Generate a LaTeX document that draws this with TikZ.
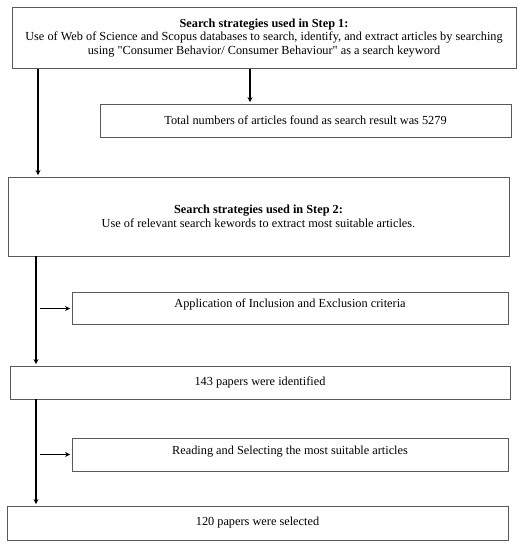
\documentclass[tikz,border=0pt]{standalone}
\usepackage{fontspec}
\setmainfont{Liberation Serif}
\usetikzlibrary{arrows.meta}
\tikzset{
	stepbox/.style = {draw = black!65, line width = .9pt, inner sep = 0pt, align = center,
		font = \fontsize{12.3}{13.5}\selectfont},
	lifted/.style = {execute at end node = {\rule[-#1]{0pt}{#1}}},
	flow/.style = {line width = 1.4pt, -{Stealth[length = 5pt, width = 5pt]}, shorten > = 1.5pt}
}
\begin{document}
\begin{tikzpicture}[x = 1pt, y = -1pt]
	\useasboundingbox (0, 0) rectangle (528, 550);
	% boxes
	\node[stepbox, minimum width = 504, minimum height = 61] (s1) at (264, 38)
		{\textbf{Search strategies used in Step 1:}\\
		Use of Web of Science and Scopus databases to search, identify, and extract articles by searching\\
		using \textquotedbl Consumer Behavior/ Consumer Behaviour\textquotedbl{} as a search keyword};
	\node[stepbox, minimum width = 411, minimum height = 33] (total) at (305.5, 120.5)
		{Total numbers of articles found as search result was 5279};
	\node[stepbox, minimum width = 501, minimum height = 79] (s2) at (258.5, 216.5)
		{\textbf{Search strategies used in Step 2:}\\
		Use of relevant search kewords to extract most suitable articles.};
	\node[stepbox, lifted = 11.5pt, minimum width = 436, minimum height = 32] (crit) at (290, 308.5)
		{Application of Inclusion and Exclusion criteria};
	\node[stepbox, minimum width = 500, minimum height = 33] (found) at (260, 382.5)
		{143 papers were identified};
	\node[stepbox, lifted = 9.5pt, minimum width = 436, minimum height = 33] (read) at (290, 454.5)
		{Reading and Selecting the most suitable articles};
	\node[stepbox, minimum width = 501, minimum height = 34] (chosen) at (257.5, 523)
		{120 papers were selected};
	% connectors
	\coordinate (c1) at (250, 0);
	\coordinate (l1) at (38, 0);
	\coordinate (l2) at (36, 0);
	\draw[flow] (s1.south -| c1) -- (total.north -| c1);
	\draw[flow] (s1.south -| l1) -- (s2.north -| l1);
	\draw[flow] (s2.south -| l2) -- (found.north -| l2);
	\draw[flow] (found.south -| l2) -- (chosen.north -| l2);
	\foreach \target in {crit, read}{
		\draw[flow] ([xshift = 3.5pt] \target.west -| l2) -- (\target.west);}
\end{tikzpicture}
\end{document}
